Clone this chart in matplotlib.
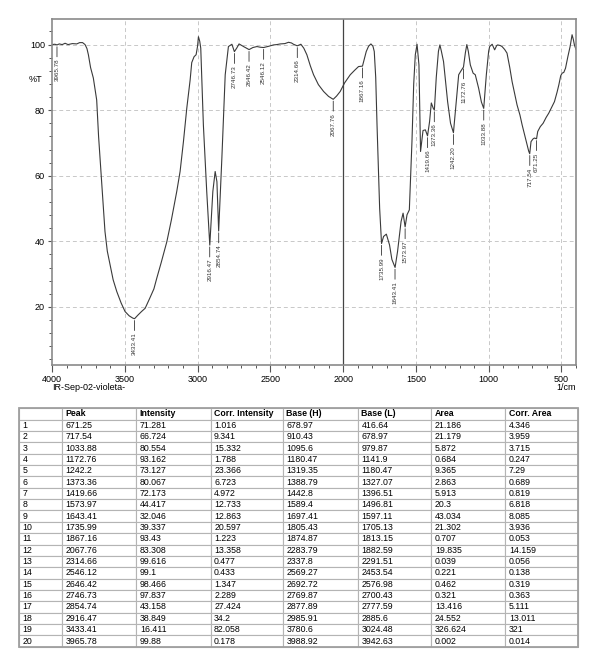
import matplotlib
matplotlib.use('Agg')
import matplotlib.pyplot as plt
from matplotlib.ticker import MultipleLocator
from matplotlib.patches import Rectangle

plt.rcParams['font.family'] = ['Liberation Sans', 'DejaVu Sans']

# spectrum trace: wavenumber (1/cm) and %T
wavenumber = [4000, 3980, 3965, 3950, 3930, 3910, 3890, 3860, 3830, 3810, 3790, 3773,
              3760, 3750, 3735, 3716, 3693, 3680, 3665, 3650, 3636, 3620, 3601, 3580,
              3555, 3525, 3498, 3470, 3445, 3433, 3410, 3385, 3360, 3330, 3300, 3280,
              3250, 3211, 3180, 3143, 3120, 3097, 3074, 3051, 3040, 3024, 3010, 3000,
              2994, 2985, 2978, 2960, 2937, 2916, 2895, 2879, 2867, 2855, 2833, 2810,
              2788, 2764, 2747, 2730, 2715, 2700, 2680, 2660, 2646, 2620, 2592, 2570,
              2546, 2510, 2478, 2455, 2432, 2400, 2375, 2355, 2341, 2315, 2290, 2270,
              2249, 2225, 2203, 2170, 2134, 2100, 2068, 2045, 2020, 1990, 1951, 1920,
              1894, 1867, 1855, 1841, 1825, 1809, 1795, 1786, 1776, 1767, 1749, 1736,
              1722, 1703, 1681, 1665, 1643, 1626, 1602, 1588, 1574, 1561, 1545, 1527,
              1515, 1504, 1492, 1479, 1468, 1451, 1435, 1420, 1406, 1394, 1380, 1373,
              1360, 1345, 1335, 1325, 1310, 1282, 1262, 1242, 1229, 1206, 1190, 1173,
              1160, 1150, 1140, 1126, 1107, 1092, 1069, 1050, 1034, 1016, 1000, 993,
              976, 959, 945, 938, 920, 908, 890, 874, 855, 839, 820, 805,
              785, 770, 741, 725, 718, 709, 696, 686, 671, 663, 645, 626,
              605, 587, 568, 548, 530, 518, 505, 495, 484, 472, 456, 440,
              427, 418, 411, 400]
transmittance = [100.0, 100.1, 99.9, 100.2, 100.0, 100.4, 100.0, 100.3, 100.2, 100.6, 100.6, 100.0,
                 98.8, 96.9, 93.0, 89.8, 83.1, 72.0, 62.0, 52.0, 43.0, 37.0, 32.8, 28.3,
                 24.7, 21.2, 18.6, 17.3, 16.6, 16.41, 17.5, 18.6, 19.6, 22.5, 25.5, 28.8,
                 33.5, 39.9, 46.5, 55.2, 61.3, 70.4, 80.6, 89.2, 94.5, 96.3, 96.9, 99.5,
                 102.4, 101.0, 98.9, 75.5, 55.2, 38.85, 55.2, 61.3, 58.2, 43.16, 65.4, 90.8,
                 99.4, 100.1, 97.84, 99.0, 100.2, 99.8, 99.3, 98.8, 98.47, 99.1, 99.4, 99.2,
                 99.1, 99.5, 99.9, 100.0, 100.2, 100.3, 100.7, 100.5, 100.1, 99.62, 100.1, 98.9,
                 96.9, 93.5, 90.8, 87.8, 85.7, 84.2, 83.31, 84.3, 85.7, 88.3, 90.8, 92.2,
                 93.3, 93.43, 95.5, 97.9, 99.5, 100.2, 99.5, 97.9, 90.0, 75.5, 50.1, 39.34,
                 41.5, 42.2, 38.9, 34.5, 32.05, 36.9, 46.0, 48.6, 44.42, 48.1, 49.6, 70.4,
                 88.0, 96.9, 100.1, 93.8, 67.4, 73.8, 74.0, 72.17, 76.5, 82.2, 80.5, 80.07,
                 90.0, 98.0, 99.9, 98.0, 94.8, 82.6, 76.0, 73.13, 79.6, 90.8, 92.0, 93.16,
                 97.5, 100.0, 98.0, 93.8, 91.3, 90.8, 86.7, 82.5, 80.55, 90.8, 98.0, 99.4,
                 100.1, 98.4, 99.7, 99.9, 99.7, 99.4, 98.5, 97.4, 93.0, 88.7, 84.8, 81.6,
                 78.5, 75.5, 70.4, 67.5, 66.72, 70.4, 71.2, 71.5, 71.28, 73.5, 75.0, 76.0,
                 77.8, 79.1, 80.8, 82.6, 85.5, 87.7, 90.5, 91.3, 91.5, 92.8, 96.3, 99.5,
                 103.0, 101.5, 99.9, 98.5]

# peak table
peak = [671.25, 717.54, 1033.88, 1172.76, 1242.2, 1373.36, 1419.66, 1573.97, 1643.41, 1735.99,
        1867.16, 2067.76, 2314.66, 2546.12, 2646.42, 2746.73, 2854.74, 2916.47, 3433.41, 3965.78]
intensity = [71.281, 66.724, 80.554, 93.162, 73.127, 80.067, 72.173, 44.417, 32.046, 39.337,
             93.43, 83.308, 99.616, 99.1, 98.466, 97.837, 43.158, 38.849, 16.411, 99.88]
corr_intensity = [1.016, 9.341, 15.332, 1.788, 23.366, 6.723, 4.972, 12.733, 12.863, 20.597,
                  1.223, 13.358, 0.477, 0.433, 1.347, 2.289, 27.424, 34.2, 82.058, 0.178]
base_h = [678.97, 910.43, 1095.6, 1180.47, 1319.35, 1388.79, 1442.8, 1589.4, 1697.41, 1805.43,
          1874.87, 2283.79, 2337.8, 2569.27, 2692.72, 2769.87, 2877.89, 2985.91, 3780.6, 3988.92]
base_l = [416.64, 678.97, 979.87, 1141.9, 1180.47, 1327.07, 1396.51, 1496.81, 1597.11, 1705.13,
          1813.15, 1882.59, 2291.51, 2453.54, 2576.98, 2700.43, 2777.59, 2885.6, 3024.48, 3942.63]
area = [21.186, 21.179, 5.872, 0.684, 9.365, 2.863, 5.913, 20.3, 43.034, 21.302,
        0.707, 19.835, 0.039, 0.221, 0.462, 0.321, 13.416, 24.552, 326.624, 0.002]
corr_area = [4.346, 3.959, 3.715, 0.247, 7.29, 0.689, 0.819, 6.818, 8.085, 3.936,
             0.053, 14.159, 0.056, 0.138, 0.319, 0.363, 5.111, 13.011, 321, 0.014]
columns = ['', 'Peak', 'Intensity', 'Corr. Intensity', 'Base (H)', 'Base (L)', 'Area', 'Corr. Area']
sample_name = 'IR-Sep-02-violeta-'

fig = plt.figure(figsize=(6, 6.54), dpi=100)

# spectrum
ax = fig.add_axes([52/600, 1 - 365/654, 524/600, 346/654])
ax.plot(wavenumber, transmittance, color='#3a3a3a', lw=0.8)
ax.set_xlim(4000, 400)
ax.set_ylim(2.3, 107.8)
ax.set_xticks([4000, 3500, 3000, 2500, 2000, 1500, 1000, 500])
ax.set_yticks([20, 40, 60, 80, 100])
ax.xaxis.set_minor_locator(MultipleLocator(100))
ax.yaxis.set_minor_locator(MultipleLocator(4))
ax.tick_params(which='major', axis='x', length=5, width=0.8, color='#555555', labelsize=6.5, pad=2)
ax.tick_params(which='major', axis='y', length=3, width=0.8, color='#555555', labelsize=6.5, pad=2)
ax.tick_params(which='minor', length=2.4, width=0.7, color='#555555')
for s in ax.spines.values():
    s.set_color('#8a8a8a')
    s.set_linewidth(1.2)
for x in [3500, 3000, 2500, 1500, 1000, 500]:
    ax.axvline(x, color='#c8c8c8', lw=0.7, ls=(0, (4, 3)), zorder=0)
for y in [20, 40, 60, 80, 100]:
    ax.axhline(y, color='#c8c8c8', lw=0.7, ls=(0, (4, 3)), zorder=0)
ax.axvline(2000, color='#444444', lw=0.9, zorder=1)

for p, t in zip(peak, intensity):
    ax.annotate('', xy=(p, t), xytext=(0, -8.5), textcoords='offset points',
                arrowprops=dict(arrowstyle='-', color='#333333', lw=0.6, shrinkA=0, shrinkB=1.3))
    ax.annotate(f'{p:.2f}', xy=(p, t), xytext=(0, -9.8), textcoords='offset points',
                rotation=90, ha='center', va='top', fontsize=4.5, color='#333333')

fig.text(35/600, 1 - 79/654, '%T', ha='center', va='center', fontsize=6.5)
fig.text(576/600, 1 - 388/654, '1/cm', ha='right', va='center', fontsize=6.5)
fig.text(52/600, 1 - 387/654, sample_name, ha='left', va='center', fontsize=6.5)

# peak table
widths = [43, 74.4, 74.3, 72.3, 75, 73.4, 74, 72.6]
tax = fig.add_axes([19/600, 1 - 646.7/654, 559/600, 238.4/654])
tax.axis('off')
rows = []
for i, vals in enumerate(zip(peak, intensity, corr_intensity, base_h, base_l, area, corr_area)):
    rows.append([str(i + 1)] + [f'{v:g}' for v in vals])
tbl = tax.table(cellText=rows, colLabels=columns, colWidths=[w / sum(widths) for w in widths],
                cellLoc='left', colLoc='left', bbox=[0, 0, 1, 1])
tbl.auto_set_font_size(False)
tbl.set_fontsize(6.3)
for (r, c), cell in tbl.get_celld().items():
    cell.set_edgecolor('#b4b4b4')
    cell.set_linewidth(0.8)
    cell.PAD = 3.4 / widths[c]
    if r == 0:
        cell.get_text().set_fontweight('bold')
tax.add_patch(Rectangle((0, 0), 1, 1, transform=tax.transAxes, fill=False,
                        edgecolor='#a0a0a0', lw=1.3, clip_on=False))

fig.savefig('out.png', dpi=100)
